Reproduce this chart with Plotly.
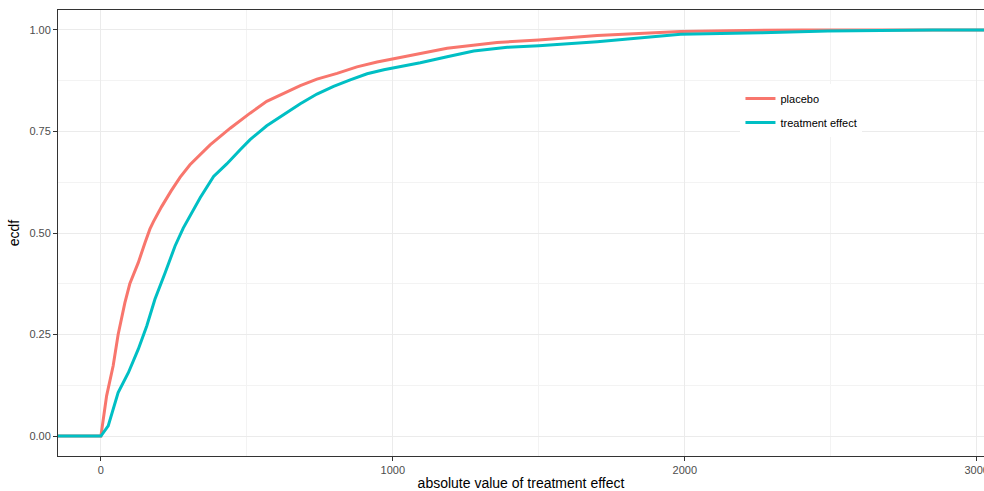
import plotly.graph_objects as go

# ECDF of |treatment effect|
placebo_x = [-200, 0, 19.5, 42, 59, 82, 99, 128, 151, 168, 180, 208, 240, 271, 305, 374, 443, 477, 511, 568, 625, 683, 740, 809, 877, 946, 1003, 1083, 1186, 1357, 1500, 1700, 1872, 1986, 2150, 2400, 3100]
placebo_y = [0, 0, 0.099, 0.173, 0.25, 0.328, 0.375, 0.427, 0.476, 0.510, 0.528, 0.565, 0.603, 0.637, 0.668, 0.717, 0.758, 0.777, 0.795, 0.824, 0.844, 0.863, 0.879, 0.893, 0.909, 0.921, 0.929, 0.941, 0.955, 0.969, 0.975, 0.986, 0.992, 0.996, 0.998, 1.0, 1.0]

treat_x = [-200, 0, 25, 59, 94, 128, 157, 185, 220, 237, 254, 282, 322, 340, 386, 431, 477, 511, 568, 625, 683, 740, 797, 854, 912, 969, 1026, 1094, 1186, 1277, 1392, 1500, 1700, 1872, 1986, 2261, 2490, 2850, 3100]
treat_y = [0, 0, 0.025, 0.107, 0.156, 0.214, 0.271, 0.337, 0.402, 0.435, 0.468, 0.512, 0.566, 0.587, 0.639, 0.670, 0.705, 0.730, 0.764, 0.791, 0.818, 0.842, 0.861, 0.877, 0.892, 0.902, 0.909, 0.919, 0.934, 0.948, 0.957, 0.961, 0.971, 0.982, 0.989, 0.993, 0.997, 1.0, 1.0]

x_ticks = [0, 1000, 2000, 3000]
y_ticks = [0, 0.25, 0.5, 0.75, 1.0]
y_ticklabels = ["0.00", "0.25", "0.50", "0.75", "1.00"]

FONT = "Liberation Sans, Arial, sans-serif"

fig = go.Figure()
fig.add_trace(go.Scatter(x=placebo_x, y=placebo_y, mode="lines", name="placebo",
                         legendgroup="p",
                         line=dict(color="#F8766D", width=3)))
fig.add_trace(go.Scatter(x=treat_x, y=treat_y, mode="lines", name="treatment effect",
                         legendgroup="t",
                         line=dict(color="#00BFC4", width=3)))

fig.update_layout(
    width=984, height=491,
    margin=dict(l=58, r=0, t=10, b=35, autoexpand=False),
    paper_bgcolor="white", plot_bgcolor="white",
    font=dict(family=FONT, size=11, color="#4D4D4D"),
    showlegend=True,
    legend=dict(x=0.737, y=0.834, xanchor="left", yanchor="top",
                bgcolor="white", borderwidth=0,
                font=dict(family=FONT, size=11, color="#000000"),
                itemwidth=30, tracegroupgap=5),
    xaxis=dict(range=[-147, 3025], tickvals=x_ticks, ticktext=[str(v) for v in x_ticks],
               automargin=False,
               showgrid=True, gridcolor="#EBEBEB", gridwidth=1,
               minor=dict(showgrid=True, gridcolor="#F3F3F3", gridwidth=0.6, dtick=500, tick0=0),
               zeroline=False, showline=True, linecolor="#333333", linewidth=1, mirror=True,
               ticks="outside", ticklen=4, tickcolor="#333333", ticklabeloverflow="allow",
               tickfont=dict(family=FONT, size=11, color="#4D4D4D"),
               title=dict(text="absolute value of treatment effect",
                          font=dict(family=FONT, size=14, color="#000000"), standoff=4)),
    yaxis=dict(range=[-0.049, 1.049], tickvals=y_ticks, ticktext=y_ticklabels,
               showgrid=True, gridcolor="#EBEBEB", gridwidth=1,
               minor=dict(showgrid=True, gridcolor="#F3F3F3", gridwidth=0.6, dtick=0.125, tick0=0),
               zeroline=False, showline=True, linecolor="#333333", linewidth=1, mirror=False,
               ticks="outside", ticklen=4, tickcolor="#333333",
               tickfont=dict(family=FONT, size=11, color="#4D4D4D"),
               title=dict(text="ecdf", font=dict(family=FONT, size=14, color="#000000"), standoff=6)),
)

fig.write_html("out.html", config={"displayModeBar": False},
               post_script="document.body.style.margin='0';")
